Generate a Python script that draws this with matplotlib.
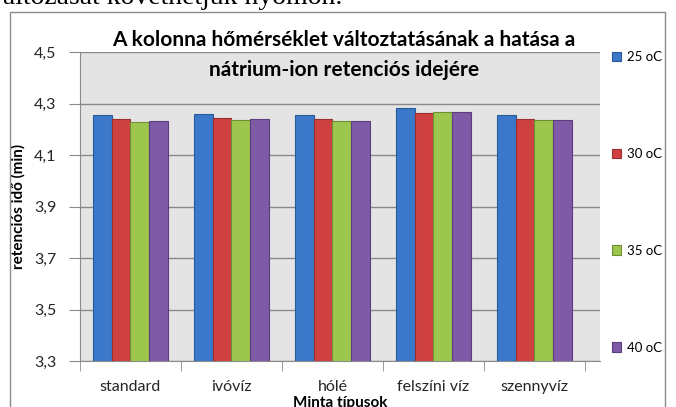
import numpy as np
import matplotlib.pyplot as plt
from matplotlib.ticker import FixedLocator, FuncFormatter

# minta tipusok es retencios idok (min)
categories = ['standard', 'ivóvíz', 'hólé', 'felszíni víz', 'szennyvíz']
series_names = ['25 oC', '30 oC', '35 oC', '40 oC']
t25 = [4.256, 4.258, 4.256, 4.282, 4.256]
t30 = [4.239, 4.244, 4.241, 4.264, 4.241]
t35 = [4.229, 4.237, 4.233, 4.268, 4.237]
t40 = [4.233, 4.241, 4.233, 4.268, 4.237]
yticks = [3.3, 3.5, 3.7, 3.9, 4.1, 4.3, 4.5]

colors = ['#3b78c9', '#cf4141', '#9dc64f', '#7f5aa6']
edges = ['#2a5a9a', '#9a2e2e', '#6f8f35', '#5a3f7c']

plt.rcParams['font.family'] = ['Lato', 'DejaVu Sans']

fig = plt.figure(figsize=(6.76, 4.07), dpi=100)
W, H = 676, 407

# chart frame
frame = plt.Rectangle((10 / W, -0.1), 655 / W, 1.1 - 12 / H, transform=fig.transFigure,
                      fill=False, edgecolor='#8c8c8c', linewidth=1.0)
fig.add_artist(frame)

# cut off line of the surrounding document
fig.text(-11 / W, 1 - 4 / H, 'változását követhetjük nyomon.', family='Liberation Serif',
         fontsize=20, ha='left', va='baseline', color='black')

ax = fig.add_axes([80 / W, 1 - 361 / H, 520 / W, 309 / H])
ax.set_facecolor('#e4e4e4')

x = np.arange(len(categories))
bw = 0.185
data = [t25, t30, t35, t40]
for i, vals in enumerate(data):
    ax.bar(x + (i - 1.5) * bw, vals, width=bw, color=colors[i], edgecolor=edges[i],
           linewidth=0.8, label=series_names[i], zorder=3)

ax.set_ylim(3.3, 4.5)
ax.set_xlim(-0.5, 4.65)
ax.yaxis.set_major_locator(FixedLocator(yticks))
ax.yaxis.set_major_formatter(FuncFormatter(lambda v, p: ('%.1f' % v).replace('.', ',')))
ax.grid(axis='y', color='#8a8a8a', linewidth=1.0, zorder=1)

ax.set_xticks(x)
ax.set_xticklabels(categories)
ax.xaxis.set_minor_locator(FixedLocator(np.arange(-0.5, 5, 1.0)))
ax.tick_params(axis='x', which='major', length=0, pad=14, labelsize=11.5, labelcolor='#262626')
ax.tick_params(axis='x', which='minor', length=7, color='#8a8a8a', direction='out')
ax.tick_params(axis='y', length=8, color='#8a8a8a', pad=9, labelsize=11.5, labelcolor='#262626')

for s in ['top', 'right']:
    ax.spines[s].set_visible(False)
for s in ['left', 'bottom']:
    ax.spines[s].set_color('#8a8a8a')

ax.set_ylabel('retenciós idő (min)', fontsize=11, fontweight='bold', labelpad=6)
ax.set_xlabel('Minta típusok', fontsize=11, fontweight='bold', labelpad=1)

fig.text(344 / W, 1 - 40 / H, 'A kolonna hőmérséklet változtatásának a hatása a',
         fontsize=15, fontweight='bold', ha='center', va='center')
fig.text(344 / W, 1 - 70 / H, 'nátrium-ion retenciós idejére',
         fontsize=15, fontweight='bold', ha='center', va='center')

leg = ax.legend(loc='upper left', bbox_to_anchor=(612 / W, 1 - 51 / H),
                bbox_transform=fig.transFigure, frameon=False, fontsize=9.5,
                handlelength=0.7, handleheight=0.7, handletextpad=0.4,
                labelspacing=6.43, borderaxespad=0, borderpad=0)

fig.savefig('out.png', dpi=100)
